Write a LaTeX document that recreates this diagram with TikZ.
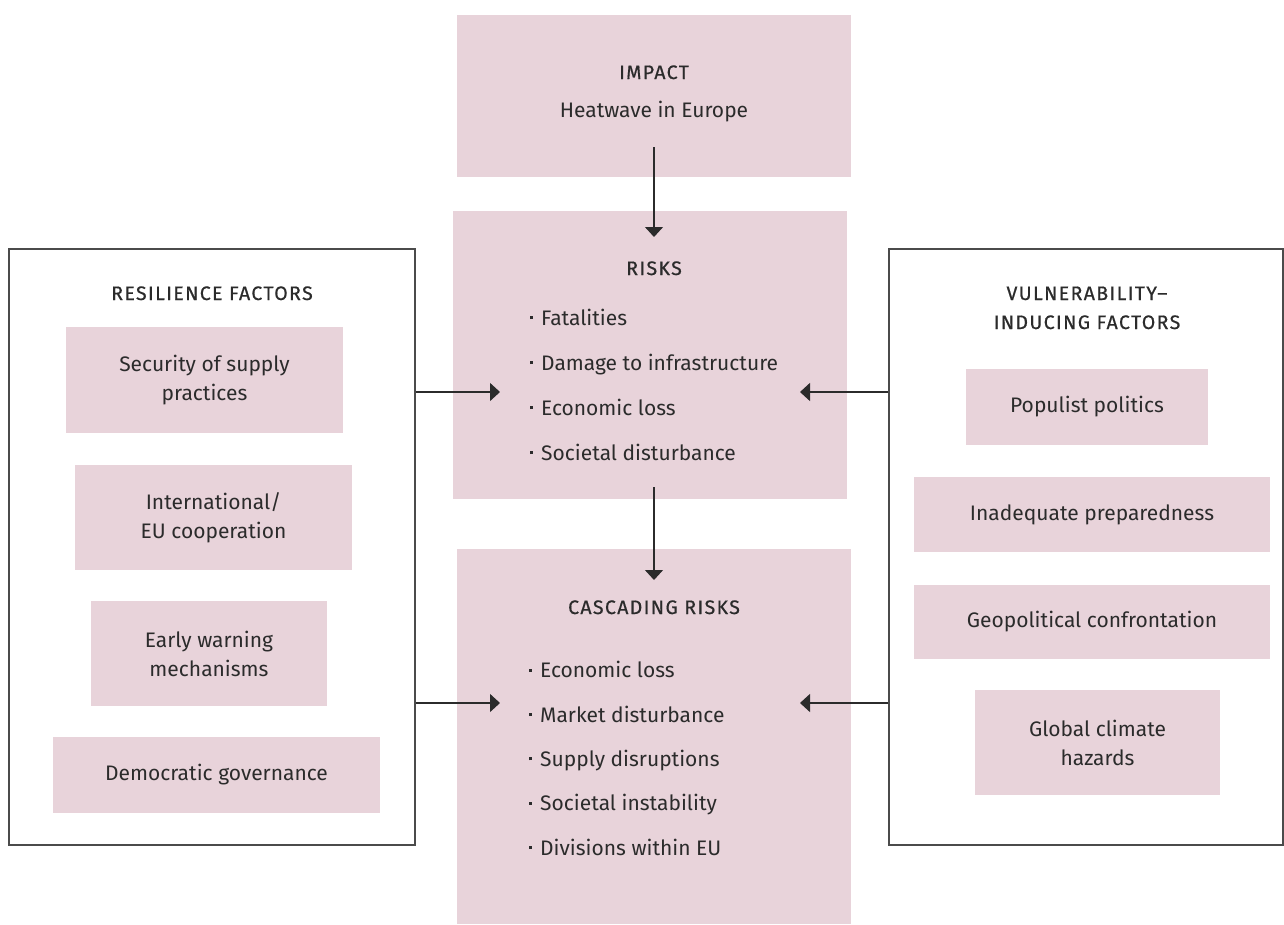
\documentclass[tikz,border=0pt]{standalone}
\usepackage{fontspec}
\setmainfont{Fira Sans}
\usetikzlibrary{arrows.meta,positioning}

\definecolor{boxpink}{HTML}{E8D3DA}
\definecolor{ink}{HTML}{2B2B2B}
\newcommand{\hdtxt}[1]{{\fontsize{19.5}{29}\selectfont\addfontfeature{LetterSpace=7,FakeBold=0.6}#1}}
\newcommand{\bul}{\rule[6pt]{3pt}{3pt}\hspace{8pt}}

\begin{document}
\begin{tikzpicture}[x=1pt,y=-1pt,>={Triangle[length=10pt,width=18pt]},
        every node/.style={text=ink,font=\fontsize{21}{29}\selectfont},
        pinkbox/.style={fill=boxpink,inner sep=0pt,align=center},
        outerbox/.style={draw=ink!85,line width=1.3pt,fill=white,inner sep=0pt},
        head/.style={anchor=base,inner sep=0pt,align=center},
        items/.style={anchor=base west,inner sep=0pt,align=left},
        link/.style={->,draw=ink,line width=1.3pt}]

  \useasboundingbox (0,0) rectangle (1284,924);

  % middle column
  \node[pinkbox,minimum width=394pt,minimum height=162pt] (impact) at (654,96) {};
  \node[pinkbox,minimum width=394pt,minimum height=288pt] (risks) at (650,355) {};
  \node[pinkbox,minimum width=394pt,minimum height=375pt] (cascade) at (654,736.5) {};

  \node[head] (impact_hd) at (654,79) {\hdtxt{IMPACT}};
  \node[head] (impact_txt) at (654,117) {Heatwave in Europe};
  \node[head] (risks_hd) at (654,275) {\hdtxt{RISKS}};
  \node[head] (cascade_hd) at (654,614) {\hdtxt{CASCADING RISKS}};

  % base anchor sits on the last line
  \node[items,font=\fontsize{21}{45}\selectfont] (risks_list) at (530,460)
    {\bul Fatalities\\ \bul Damage to infrastructure\\ \bul Economic loss\\ \bul Societal disturbance};
  \node[items,font=\fontsize{21}{44.3}\selectfont] (cascade_list) at (529,855)
    {\bul Economic loss\\ \bul Market disturbance\\ \bul Supply disruptions\\ \bul Societal instability\\ \bul Divisions within EU};

  % left column
  \node[outerbox,minimum width=406pt,minimum height=596pt] (res) at (212,547) {};
  \node[head] (res_hd) at (212,300) {\hdtxt{RESILIENCE FACTORS}};
  \node[pinkbox,minimum width=277pt,minimum height=106pt] (res_1) at (204.5,380) {Security of supply\\practices};
  \node[pinkbox,minimum width=277pt,minimum height=105pt] (res_2) at (213.5,517.5) {International/\\EU cooperation};
  \node[pinkbox,minimum width=236pt,minimum height=105pt] (res_3) at (209,653.5) {Early warning\\mechanisms};
  \node[pinkbox,minimum width=327pt,minimum height=76pt] (res_4) at (216.5,775) {Democratic governance};

  % right column
  \node[outerbox,minimum width=394pt,minimum height=596pt] (vul) at (1086,547) {};
  \node[head] (vul_hd) at (1087,329) {\hdtxt{VULNERABILITY–}\\\hdtxt{INDUCING FACTORS}};
  \node[pinkbox,minimum width=242pt,minimum height=76pt] (vul_1) at (1087,407) {Populist politics};
  \node[pinkbox,minimum width=356pt,minimum height=75pt] (vul_2) at (1092,514.5) {Inadequate preparedness};
  \node[pinkbox,minimum width=356pt,minimum height=74pt] (vul_3) at (1092,622) {Geopolitical confrontation};
  \node[pinkbox,minimum width=245pt,minimum height=105pt] (vul_4) at (1097.5,742.5) {Global climate\\hazards};

  % arrow ends
  \coordinate (i_out) at (654,147);
  \coordinate (r_in) at (654,237);
  \coordinate (r_out) at (654,487);
  \coordinate (c_in) at (654,580);
  \coordinate (l_in1) at (500,392);
  \coordinate (l_in2) at (500,703);
  \coordinate (v_in1) at (800,392);
  \coordinate (v_in2) at (800,703);

  \path (i_out) edge[link] (r_in)
        (r_out) edge[link] (c_in)
        (res.east |- l_in1) edge[link] (l_in1)
        (res.east |- l_in2) edge[link] (l_in2)
        (vul.west |- v_in1) edge[link] (v_in1)
        (vul.west |- v_in2) edge[link] (v_in2);

\end{tikzpicture}
\end{document}
